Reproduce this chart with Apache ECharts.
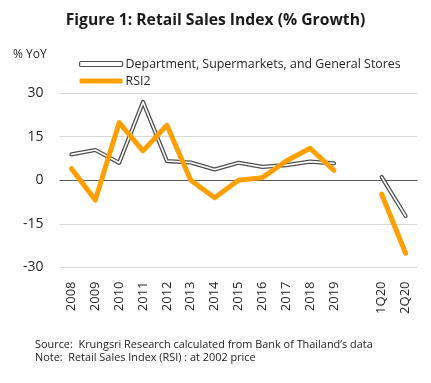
<!DOCTYPE html>
<html><head><meta charset="utf-8">
<script src="https://cdn.jsdelivr.net/npm/echarts@6/dist/echarts.min.js"></script>
<style>html,body{margin:0;padding:0;background:#fff}#c{width:431px;height:383px}</style>
</head><body><div id="c"></div>
<script>
const categories = ['2008','2009','2010','2011','2012','2013','2014','2015','2016','2017','2018','2019','','1Q20','2Q20'];
const deptStores = [8.9,10.4,6.0,26.9,6.6,6.1,3.7,6.0,4.6,5.2,6.4,5.8,null,1.1,-12.3];
const rsi2 = [4.0,-6.8,19.8,10.1,18.9,0,-6.0,0,0.9,6.6,11.0,3.4,null,-4.8,-25.1];
const yTicks = {min:-30,max:30,interval:15};
const FONT = 'Open Sans';
const chart = echarts.init(document.getElementById('c'));
chart.setOption({
  animation:false,
  textStyle:{fontFamily:FONT},
  title:{text:'Figure 1: Retail Sales Index (% Growth)',left:'center',top:8,
    textStyle:{fontFamily:FONT,fontSize:15.7,fontWeight:'bold',color:'#1a1a1a'}},
  legend:{orient:'vertical',left:74,top:53,itemWidth:43,itemHeight:5,itemGap:5,
    textStyle:{fontFamily:FONT,fontSize:12.4,color:'#262626',padding:[0,0,0,-2]},
    data:[
      {name:'Department, Supermarkets, and General Stores',icon:'roundRect',itemStyle:{color:'#fff',borderColor:'#505050',borderWidth:1.2}},
      {name:'RSI2',icon:'roundRect',itemStyle:{color:'#FF9F00',borderWidth:0}}
    ]},
  grid:{left:59.5,right:13.5,top:93,bottom:115.5},
  xAxis:{type:'category',data:categories,boundaryGap:true,
    axisLine:{show:false},axisTick:{show:false},
    axisLabel:{rotate:90,interval:0,fontSize:13,color:'#262626',margin:14,fontFamily:FONT}},
  yAxis:{type:'value',min:yTicks.min,max:yTicks.max,interval:yTicks.interval,
    axisLine:{show:false},axisTick:{show:false},
    axisLabel:{fontSize:14,color:'#262626',margin:16,fontFamily:FONT},
    splitLine:{lineStyle:{color:['#d9d9d9','#d9d9d9','#595959','#d9d9d9','#d9d9d9'],width:1}}},
  graphic:[
    {type:'text',left:13,top:49,style:{text:'% YoY',fontFamily:FONT,fontSize:12,fill:'#262626'}},
    {type:'text',left:35,top:338,style:{text:'Source:  Krungsri Research calculated from Bank of Thailand\u2019s data\nNote:  Retail Sales Index (RSI) : at 2002 price',fontFamily:FONT,fontSize:10.9,lineHeight:13.5,fill:'#1a1a1a'}}
  ],
  series:[
    {name:'Department, Supermarkets, and General Stores',type:'line',data:deptStores,symbol:'none',connectNulls:false,
      lineStyle:{color:'#505050',width:4.2,cap:'round',join:'round'},itemStyle:{color:'#505050'},z:2},
    {name:'dept-inner',type:'line',data:deptStores,symbol:'none',connectNulls:false,silent:true,
      lineStyle:{color:'#fff',width:1.6,cap:'round',join:'round'},z:3},
    {name:'RSI2',type:'line',data:rsi2,symbol:'none',connectNulls:false,
      lineStyle:{color:'#FF9F00',width:5,cap:'round',join:'round'},itemStyle:{color:'#FF9F00'},z:4}
  ]
});
</script></body></html>
